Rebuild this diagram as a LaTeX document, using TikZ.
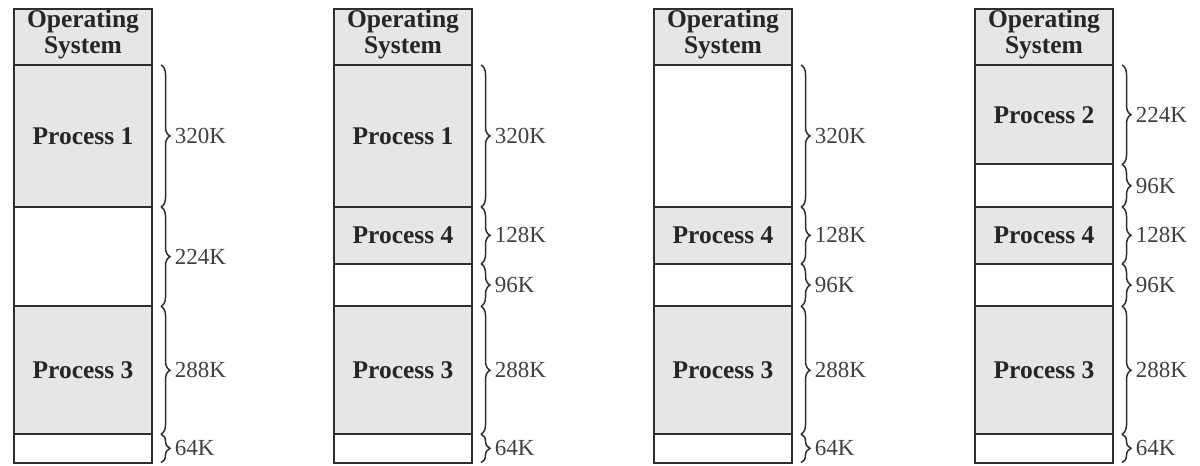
\documentclass[tikz,border=0pt]{standalone}
\usepackage{fontspec}
\setmainfont{Liberation Serif}
\usetikzlibrary{decorations.pathreplacing}

\definecolor{procgray}{HTML}{E6E6E6}
\definecolor{edgegray}{HTML}{2E2E2E}

\tikzset{
  block/.style={draw=edgegray, line width=2pt},
  used/.style={block, fill=procgray},
  free/.style={block, fill=white},
  memsize/.style={decorate, decoration={brace, amplitude=9pt}, line width=1.5pt, draw=edgegray},
  proclabel/.style={font=\fontsize{25.5}{26}\selectfont\bfseries, text=black!85, align=center},
  sizelabel/.style={font=\fontsize{23}{25}\selectfont, text=black!75, anchor=west, inner sep=0pt, xshift=13pt}
}

\begin{document}
\begin{tikzpicture}[x=1pt,y=-0.4437pt]
\useasboundingbox (0pt,0pt) rectangle (1200pt,-466pt);

% first column: after process 2 left
\begin{scope}[xshift=14pt,yshift=-65pt]
\draw[used] (0,-126) rectangle (138,0);
\node[proclabel] (os1) at (69,-70) {Operating\\System};
\foreach \a/\b/\txt/\kind/\sz in {0/320/Process 1/used/320K, 320/544//free/224K, 544/832/Process 3/used/288K, 832/896//free/64K} {
  \draw[\kind] (0,\a) rectangle (138,\b);
  \node[proclabel] (pa\a) at (69,{(\a+\b)/2}) {\txt};
  \draw[memsize] (147,\a) -- (147,\b) node[midway, sizelabel] (ka\a) {\sz};
}
\end{scope}

% second column: process 4 loaded
\begin{scope}[xshift=334pt,yshift=-65pt]
\draw[used] (0,-126) rectangle (138,0);
\node[proclabel] (os2) at (69,-70) {Operating\\System};
\foreach \a/\b/\txt/\kind/\sz in {0/320/Process 1/used/320K, 320/448/Process 4/used/128K, 448/544//free/96K, 544/832/Process 3/used/288K, 832/896//free/64K} {
  \draw[\kind] (0,\a) rectangle (138,\b);
  \node[proclabel] (pb\a) at (69,{(\a+\b)/2}) {\txt};
  \draw[memsize] (147,\a) -- (147,\b) node[midway, sizelabel] (kb\a) {\sz};
}
\end{scope}

% third column: process 1 swapped out
\begin{scope}[xshift=654pt,yshift=-65pt]
\draw[used] (0,-126) rectangle (138,0);
\node[proclabel] (os3) at (69,-70) {Operating\\System};
\foreach \a/\b/\txt/\kind/\sz in {0/320//free/320K, 320/448/Process 4/used/128K, 448/544//free/96K, 544/832/Process 3/used/288K, 832/896//free/64K} {
  \draw[\kind] (0,\a) rectangle (138,\b);
  \node[proclabel] (pc\a) at (69,{(\a+\b)/2}) {\txt};
  \draw[memsize] (147,\a) -- (147,\b) node[midway, sizelabel] (kc\a) {\sz};
}
\end{scope}

% fourth column: process 2 back in
\begin{scope}[xshift=975pt,yshift=-65pt]
\draw[used] (0,-126) rectangle (138,0);
\node[proclabel] (os4) at (69,-70) {Operating\\System};
\foreach \a/\b/\txt/\kind/\sz in {0/224/Process 2/used/224K, 224/320//free/96K, 320/448/Process 4/used/128K, 448/544//free/96K, 544/832/Process 3/used/288K, 832/896//free/64K} {
  \draw[\kind] (0,\a) rectangle (138,\b);
  \node[proclabel] (pd\a) at (69,{(\a+\b)/2}) {\txt};
  \draw[memsize] (147,\a) -- (147,\b) node[midway, sizelabel] (kd\a) {\sz};
}
\end{scope}
\end{tikzpicture}
\end{document}
